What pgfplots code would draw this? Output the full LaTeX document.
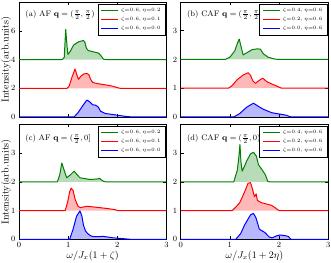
\documentclass[border=0pt]{standalone}
\usepackage{pgfplots}
\usepackage{pgfplotstable}
\pgfplotsset{compat=1.18}
\definecolor{mgreen}{RGB}{0,128,0}
\definecolor{mred}{RGB}{255,0,0}
\definecolor{mblue}{RGB}{0,0,255}

\pgfplotstableread{
x y
0 4
0.88 4
0.92 4.15
0.95 6.1
0.975 5.0
0.995 4.35
1.04 4.55
1.11 5.0
1.21 5.23
1.31 5.32
1.34 5.2
1.37 4.79
1.41 4.62
1.52 4.53
1.62 4.44
1.67 4.25
1.72 4.02
1.76 4
3 4
}\aG
\pgfplotstableread{
x y
0 2
0.98 2
1.02 2.15
1.08 2.8
1.14 3.34
1.18 2.9
1.21 2.62
1.26 2.85
1.32 3.0
1.38 3.02
1.42 2.95
1.46 2.6
1.5 2.4
1.6 2.32
1.75 2.24
1.9 2.15
1.99 2.05
2.05 2.0
3 2
}\aR
\pgfplotstableread{
x y
0 0
1.12 0
1.2 0.3
1.3 0.8
1.38 1.18
1.44 1.05
1.5 0.85
1.56 0.82
1.61 0.7
1.66 0.4
1.75 0.25
1.95 0.15
2.15 0.05
2.3 0
3 0
}\aB
\pgfplotstableread{
x y
0 2
0.9 2
1.0 2.08
1.1 2.3
1.16 2.6
1.19 2.71
1.22 2.5
1.27 2.16
1.33 2.22
1.45 2.34
1.55 2.37
1.62 2.36
1.68 2.2
1.78 2.08
1.9 2.02
2.0 2
3 2
}\bG
\pgfplotstableread{
x y
0 1
0.97 1
1.05 1.1
1.15 1.3
1.27 1.46
1.37 1.54
1.42 1.45
1.47 1.25
1.52 1.17
1.6 1.28
1.67 1.35
1.75 1.23
1.85 1.15
1.95 1.08
2.05 1.0
3 1
}\bR
\pgfplotstableread{
x y
0 0
1.08 0
1.2 0.12
1.35 0.35
1.48 0.48
1.58 0.37
1.68 0.27
1.85 0.15
2.02 0.1
2.15 0.06
2.24 0
3 0
}\bB
\pgfplotstableread{
x y
0 2
0.78 2
0.83 2.25
0.87 2.65
0.9 2.5
0.97 2.14
1.05 2.25
1.12 2.37
1.18 2.25
1.24 2.14
1.45 2.08
1.6 2.1
1.64 2.12
1.68 2.06
1.72 2.02
1.76 2
3 2
}\cG
\pgfplotstableread{
x y
0 1
0.94 1
0.99 1.3
1.03 1.65
1.06 1.78
1.1 1.7
1.14 1.4
1.2 1.15
1.25 1.1
1.38 1.15
1.6 1.11
1.8 1.07
1.96 1.03
2.0 1.0
3 1
}\cR
\pgfplotstableread{
x y
0 0
1.03 0
1.1 0.35
1.17 0.8
1.24 0.99
1.28 0.8
1.31 0.5
1.35 0.3
1.39 0.21
1.46 0.12
1.52 0.09
1.72 0.1
1.92 0.05
2.27 0
3 0
}\cB
\pgfplotstableread{
x y
0 2
1.08 2
1.15 2.4
1.18 2.8
1.205 3.3
1.225 2.7
1.25 2.37
1.3 2.55
1.34 2.72
1.42 2.97
1.48 3.03
1.54 2.89
1.58 2.6
1.65 2.43
1.72 2.25
1.77 2.02
1.8 2
3 2
}\dG
\pgfplotstableread{
x y
0 1
1.05 1
1.12 1.12
1.2 1.27
1.3 1.65
1.37 1.95
1.42 1.97
1.46 1.75
1.5 1.48
1.535 1.58
1.56 1.35
1.65 1.27
1.85 1.18
1.92 1.1
1.98 1.02
2.0 1
3 1
}\dR
\pgfplotstableread{
x y
0 0
1.12 0
1.22 0.2
1.3 0.5
1.42 0.85
1.48 0.9
1.53 0.75
1.6 0.35
1.71 0.24
1.8 0.08
1.86 0.05
1.95 0.12
2.02 0.15
2.12 0.13
2.19 0.1
2.24 0
3 0
}\dB

\pgfplotsset{
  panel/.style={
    scale only axis, width=147.5pt, height=115pt,
    xmin=0, xmax=3, xtick={0,1,2,3},
    tick align=inside, xtick pos=both, ytick pos=both,
    major tick length=3pt,
    tick label style={font=\footnotesize},
    label style={font=\normalsize},
    ylabel style={at={(axis description cs:-0.088,0.5)}, anchor=center},
    xlabel style={at={(axis description cs:0.5,-0.145)}, anchor=center},
    axis line style={line width=0.6pt},
    every tick/.style={black, line width=0.5pt},
    clip=false,
    legend style={font=\tiny, at={(0.995,0.985)}, anchor=north east},
    legend cell align=left,
  },
  cur/.style={line width=1.0pt, line join=round},
}

\newcommand{\series}[2]{%
  \addplot[fill=#1, fill opacity=0.28, draw=none, forget plot] table {#2} -- cycle;
  \addplot[color=#1, cur, forget plot] table {#2};
}
\newcommand{\lentry}[2]{%
  \addlegendimage{#1, line width=1.2pt}
  \addlegendentry{#2}
}

\begin{document}
\begin{tikzpicture}
\useasboundingbox (0,0) rectangle (331pt,262pt);

% (a)
\begin{axis}[panel, at={(19pt,145pt)}, anchor=south west,
  ymin=0, ymax=8, ytick={0,2,4,6}, xticklabels={},
  ylabel={Intensity(arb.units)}]
\series{mgreen}{\aG}
\series{mred}{\aR}
\series{mblue}{\aB}
\lentry{mgreen}{$\zeta{=}0.6,\eta{=}0.2$}
\lentry{mred}{$\zeta{=}0.6,\eta{=}0.1$}
\lentry{mblue}{$\zeta{=}0.6,\eta{=}0.0$}
\node[anchor=west, font=\footnotesize] at (rel axis cs:0.02,0.885) {(a) AF $\mathbf{q}=(\frac{\pi}{2},\frac{\pi}{2})$};
\end{axis}

% (b)
\begin{axis}[panel, at={(180.7pt,145pt)}, anchor=south west,
  ymin=0, ymax=4, ytick={0,1,2,3}, xticklabels={}]
\series{mgreen}{\bG}
\series{mred}{\bR}
\series{mblue}{\bB}
\lentry{mgreen}{$\zeta{=}0.4,\eta{=}0.6$}
\lentry{mred}{$\zeta{=}0.2,\eta{=}0.6$}
\lentry{mblue}{$\zeta{=}0.0,\eta{=}0.6$}
\node[anchor=west, font=\footnotesize] at (rel axis cs:0.02,0.885) {(b) CAF $\mathbf{q}=(\frac{\pi}{2},\frac{\pi}{2})$};
\end{axis}

% (c)
\begin{axis}[panel, at={(19pt,22.7pt)}, anchor=south west,
  ymin=0, ymax=4, ytick={0,1,2,3},
  ylabel={Intensity(arb.units)},
  xlabel={$\omega/J_x(1+\zeta)$}]
\series{mgreen}{\cG}
\series{mred}{\cR}
\series{mblue}{\cB}
\lentry{mgreen}{$\zeta{=}0.6,\eta{=}0.2$}
\lentry{mred}{$\zeta{=}0.6,\eta{=}0.1$}
\lentry{mblue}{$\zeta{=}0.6,\eta{=}0.0$}
\node[anchor=west, font=\footnotesize] at (rel axis cs:0.02,0.87) {(c) AF $\mathbf{q}=(\frac{\pi}{2},0]$};
\end{axis}

% (d)
\begin{axis}[panel, at={(180.7pt,22.7pt)}, anchor=south west,
  ymin=0, ymax=4, ytick={0,1,2,3},
  xlabel={$\omega/J_x(1+2\eta)$}]
\series{mgreen}{\dG}
\series{mred}{\dR}
\series{mblue}{\dB}
\lentry{mgreen}{$\zeta{=}0.4,\eta{=}0.6$}
\lentry{mred}{$\zeta{=}0.2,\eta{=}0.6$}
\lentry{mblue}{$\zeta{=}0.0,\eta{=}0.6$}
\node[anchor=west, font=\footnotesize] at (rel axis cs:0.02,0.87) {(d) CAF $\mathbf{q}=(\frac{\pi}{2},0)$};
\end{axis}
\end{tikzpicture}
\end{document}
